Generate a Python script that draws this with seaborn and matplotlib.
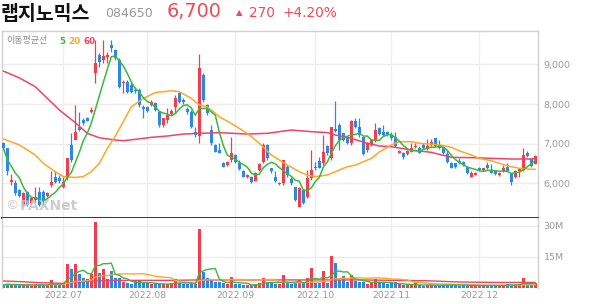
import numpy as np
import pandas as pd
import matplotlib
matplotlib.use("Agg")
import matplotlib.pyplot as plt
import seaborn as sns
from matplotlib.ticker import FuncFormatter, FixedLocator

# ---------------- data ----------------
opens = [7010, 6880, 6040, 6000, 5830, 5460, 5790, 5500, 5580, 5790, 5790, 5670, 5960, 6170, 6140, 5920,
         6130, 6970, 7090, 7430, 7600, 7640, 7810, 8770, 9240, 9110, 9190, 9490, 9360, 9110, 8520, 8560,
         8480, 8350, 8350, 7930, 7920, 7980, 8020, 7810, 7470, 7600, 7750, 7930, 8270, 8100, 7870, 7810,
         7300, 7190, 8730, 7980, 7350, 6970, 6840, 6510, 6460, 6590, 6720, 6510, 6320, 6150, 6170, 6070,
         6340, 6550, 6970, 6380, 6170, 5980, 6000, 6420, 6100, 5900, 5410, 5830, 5650, 6130, 6420, 6570,
         6510, 6930, 6630, 7360, 7470, 7260, 7180, 7010, 7560, 7430, 7160, 6840, 6970, 7090, 7390, 7300,
         7300, 7220, 7160, 6770, 6760, 6740, 6800, 6910, 6880, 6970, 6860, 6970, 7140, 6970, 6910, 6740,
         6510, 6510, 6570, 6550, 6420, 6170, 6220, 6380, 6340, 6460, 6340, 6300, 6200, 6300, 6420, 6240,
         6170, 6300, 6340, 6770, 6610, 6500]
highs = [7050, 6900, 6240, 6090, 5860, 5790, 5800, 5650, 5920, 5920, 5830, 5790, 6300, 6300, 6200, 6170,
         6630, 7260, 7970, 7810, 7660, 7680, 7920, 9610, 9280, 9610, 9320, 9610, 9380, 9150, 8610, 8600,
         8520, 8440, 8400, 7970, 7950, 8100, 8060, 7830, 7660, 7890, 7870, 8230, 8310, 8150, 7930, 7850,
         7430, 9260, 8770, 8000, 7470, 6990, 7010, 6550, 6570, 7180, 6740, 6590, 6340, 6230, 6190, 6290,
         6520, 7010, 7000, 6400, 6300, 6040, 6590, 6460, 6170, 5920, 5920, 5850, 6340, 6840, 6550, 6670,
         7220, 6970, 7430, 8080, 7510, 7280, 7200, 7600, 7640, 7640, 7180, 7050, 7110, 7530, 7430, 7470,
         7320, 7300, 7300, 6840, 6800, 6840, 7010, 7030, 6940, 7010, 7110, 7110, 7150, 7100, 6920, 6840,
         6550, 6520, 6630, 6570, 6440, 6300, 6290, 6420, 6400, 6550, 6480, 6320, 6290, 6460, 6520, 6250,
         6340, 6370, 6880, 6820, 6640, 6720]
lows = [6840, 6210, 5960, 5710, 5650, 5430, 5440, 5480, 5540, 5440, 5460, 5650, 5920, 6000, 6010, 5880,
        6090, 6550, 7090, 7330, 7470, 7560, 7770, 8520, 8940, 9030, 9030, 9320, 9110, 8400, 8270, 8270,
        8270, 8270, 7930, 7640, 7800, 7950, 7830, 7430, 7430, 7510, 7720, 7770, 8020, 8000, 7760, 7390,
        7180, 7010, 8060, 7720, 6970, 6780, 6760, 6420, 6440, 6550, 6520, 6340, 6150, 6130, 6010, 6050,
        6320, 6510, 6600, 6270, 6040, 5960, 5960, 6170, 5960, 5560, 5400, 5480, 5620, 6090, 6340, 6380,
        6460, 6720, 6590, 7300, 6840, 7070, 6990, 6970, 7400, 7180, 6720, 6800, 6950, 7050, 7220, 7190,
        7200, 7090, 6910, 6760, 6610, 6720, 6780, 6890, 6760, 6860, 6840, 6950, 6910, 6860, 6740, 6520,
        6400, 6400, 6490, 6450, 6240, 6150, 6200, 6300, 6320, 6360, 6250, 6210, 6190, 6280, 6300, 5960,
        6130, 6170, 6300, 6670, 6420, 6490]
closes = [6900, 6300, 6090, 5750, 5670, 5750, 5460, 5620, 5660, 5460, 5580, 5750, 6040, 6040, 6060, 6040,
          6630, 6590, 7300, 7350, 7510, 7580, 7850, 9030, 9070, 9210, 9240, 9400, 9150, 8440, 8560, 8310,
          8310, 8340, 7980, 7870, 7830, 8060, 7850, 7470, 7640, 7720, 7830, 8140, 8060, 8060, 7810, 7430,
          7220, 8900, 8100, 7770, 7010, 6800, 6770, 6420, 6550, 6760, 6550, 6350, 6170, 6210, 6030, 6270,
          6490, 6970, 6630, 6300, 6070, 6020, 6590, 6210, 6000, 5580, 5880, 5500, 6130, 6340, 6380, 6400,
          6800, 6770, 7430, 7330, 7090, 7090, 7010, 7560, 7430, 7220, 6740, 7010, 7090, 7350, 7240, 7220,
          7220, 7140, 6930, 6820, 6660, 6820, 6880, 6940, 6770, 6880, 6930, 7050, 6930, 6880, 6770, 6550,
          6400, 6420, 6510, 6460, 6250, 6270, 6270, 6340, 6380, 6380, 6270, 6230, 6270, 6400, 6320, 6040,
          6300, 6350, 6720, 6690, 6430, 6700]
volumes_m = [1.5, 2.0, 1.6, 1.4, 1.3, 1.6, 1.5, 1.2, 1.4, 1.6, 1.5, 1.4, 3.7, 1.8, 1.6, 1.7,
             11.4, 9.0, 11.4, 6.6, 4.7, 4.2, 6.6, 31.9, 7.1, 9.0, 4.2, 8.0, 4.7, 4.7, 2.7, 2.3, 1.8, 3.2, 3.2, 2.3,
             2.2, 1.8, 2.2, 1.8, 1.8, 1.8, 2.2, 4.2, 2.2, 1.8, 1.8, 2.2, 1.8,
             28.3, 7.7, 4.7, 3.7, 2.7, 2.7, 2.2, 1.8, 5.2, 1.8, 1.8, 1.3, 1.3, 1.3, 1.8, 2.2, 4.7, 2.7, 2.2,
             1.8, 1.8, 6.1, 2.2, 1.8, 2.2,
             3.9, 2.6, 4.7, 9.5, 2.2, 2.2, 8.0, 2.2, 15.3, 11.9, 3.7, 5.6, 2.7, 6.1, 3.2, 2.7, 2.7, 1.8, 2.7,
             4.2, 2.7, 2.2, 1.8, 2.2, 2.7, 1.8, 1.3, 1.3, 1.3, 2.2,
             1.3, 1.1, 1.5, 1.3, 1.6, 1.1, 1.3, 1.6, 1.8, 1.3, 1.1, 1.3, 1.6, 1.3, 1.1, 1.1, 1.3, 1.1, 1.3,
             1.1, 1.3, 1.6, 1.8, 1.6, 1.3, 1.6,
             4.7, 1.8, 1.6, 2.2]

ma20_days = [0, 4, 8, 10, 13, 15, 18, 20, 22, 24, 26, 28, 30, 32, 35, 38, 40, 42, 44, 47, 49, 51, 54, 57,
             61, 64, 67, 71, 74, 76, 78, 81, 83, 86, 88, 92, 94, 97, 99, 102, 104, 107, 109, 112, 114, 117,
             119, 122, 124, 127, 129, 132, 133]
ma20_vals = [7120, 6970, 6715, 6505, 6295, 6170, 6150, 6170, 6295, 6505, 6880, 7190, 7555, 7930, 8140, 8290,
             8310, 8335, 8310, 8140, 7975, 7930, 7680, 7510, 7260, 7010, 6715, 6460, 6295, 6210, 6170, 6210,
             6295, 6420, 6460, 6630, 6790, 6970, 7050, 7050, 7010, 6990, 6970, 6910, 6820, 6715, 6630, 6570,
             6505, 6420, 6380, 6355, 6355]
ma60_days = [0, 4, 8, 11, 14, 18, 21, 24, 28, 30, 33, 37, 41, 45, 49, 54, 61, 66, 72, 77, 81, 83, 87, 91,
             94, 97, 102, 107, 109, 112, 117, 122, 127, 132, 133]
ma60_vals = [8830, 8660, 8437, 8143, 7850, 7530, 7260, 7150, 7093, 7076, 7110, 7160, 7194, 7244, 7261, 7278,
             7244, 7261, 7345, 7303, 7280, 7219, 7135, 7009, 6942, 6925, 6841, 6782, 6732, 6656, 6648, 6631,
             6614, 6614, 6630]
vma60_days = [0, 4, 9, 15, 22, 28, 41, 49, 57, 74, 81, 89, 98, 106, 114, 123, 133]
vma60_vals = [3.4, 3.1, 2.6, 2.25, 3.4, 3.7, 3.7, 3.9, 3.9, 3.9, 3.9, 3.9, 3.7, 3.5, 2.9, 2.7, 2.7]

month_start_days = [15, 36, 58, 78, 97, 119]
month_labels = ["2022.07", "2022.08", "2022.09", "2022.10", "2022.11", "2022.12"]
price_ticks = [6000, 7000, 8000, 9000]
volume_ticks = [15e6, 30e6]

stock_name = "랩지노믹스"
stock_code = "084650"
last_price = "6,700"
change_text = "270"
change_pct = "+4.20%"

# ---------------- styling ----------------
sns.set_theme(style="white")
plt.rcParams["font.family"] = ["DejaVu Sans", "Noto Sans CJK KR"]

RED = "#f23d4c"
BLUE = "#2b88e8"
C5 = "#3cb83c"
C20 = "#ffa726"
C60 = "#f0436a"
GRID = "#ededed"
LABEL = "#999999"

W, H = 594, 304
fig = plt.figure(figsize=(W / 100, H / 100), dpi=100)
fig.patch.set_facecolor("white")

def fx(px):
    return px / W

def fy(py):
    return 1 - py / H

left, right = 2, 538
p_top, p_bot = 30.5, 217.5
v_bot = 288.0

ax = fig.add_axes([fx(left), fy(p_bot), (right - left) / W, (p_bot - p_top) / H])
axv = fig.add_axes([fx(left), fy(v_bot), (right - left) / W, (v_bot - p_bot) / H])

n = len(closes)
days = np.arange(n)
df = pd.DataFrame({"day": days, "open": opens, "high": highs, "low": lows,
                   "close": closes, "volume": np.array(volumes_m) * 1e6})
df["up"] = df["close"] >= df["open"]
df["color"] = np.where(df["up"], RED, BLUE)
df["ma5"] = df["close"].rolling(5, min_periods=1).mean()
df["vma5"] = df["volume"].rolling(5, min_periods=1).mean()
df["vma20"] = df["volume"].rolling(20, min_periods=1).mean()

xlim = (-0.33, n - 1 + 0.67)

# ---- price panel ----
for m in month_start_days:
    ax.axvline(m, color=GRID, lw=1.0, zorder=0)
for t in price_ticks:
    ax.axhline(t, color=GRID, lw=1.0, zorder=0)

ax.vlines(df["day"], df["low"], df["high"], colors=df["color"], lw=0.9, zorder=2)
body_bottom = np.minimum(df["open"], df["close"])
body_h = np.maximum(np.abs(df["close"] - df["open"]), 12)
ax.bar(df["day"], body_h, bottom=body_bottom, width=0.72, color=df["color"], linewidth=0, zorder=3)

ma20_df = pd.DataFrame({"day": ma20_days, "v": ma20_vals})
ma60_df = pd.DataFrame({"day": ma60_days, "v": ma60_vals})
sns.lineplot(data=ma60_df, x="day", y="v", ax=ax, color=C60, lw=1.1, zorder=4)
sns.lineplot(data=ma20_df, x="day", y="v", ax=ax, color=C20, lw=1.1, zorder=4)
sns.lineplot(data=df, x="day", y="ma5", ax=ax, color=C5, lw=1.1, zorder=5)

ax.set_xlim(*xlim)
ax.set_ylim(5140, 9853)
ax.set_xlabel("")
ax.set_ylabel("")
ax.set_xticks([])
ax.yaxis.tick_right()
ax.yaxis.set_major_locator(FixedLocator(price_ticks))
ax.yaxis.set_major_formatter(FuncFormatter(lambda v, p: f"{int(v):,}"))
ax.tick_params(axis="y", length=0, pad=4, labelsize=6.8, labelcolor=LABEL)
for s in ["top", "right", "left"]:
    ax.spines[s].set_color("#d0d0d0")
    ax.spines[s].set_linewidth(1.0)
ax.spines["bottom"].set_color("#333333")
ax.spines["bottom"].set_linewidth(1.4)

# watermark
ax.text(3 / (right - left), 0.062, "©", transform=ax.transAxes, fontsize=9.5,
        color="#c4c4c4", alpha=0.85, va="center", ha="left", zorder=6)
ax.text(18 / (right - left), 0.062, "PAXNet", transform=ax.transAxes, fontsize=10,
        fontweight="bold", color="#c4c4c4", alpha=0.85, va="center", ha="left", zorder=6)

# ---- volume panel ----
for m in month_start_days:
    axv.axvline(m, color=GRID, lw=1.0, zorder=0)
for t in volume_ticks:
    axv.axhline(t, color=GRID, lw=1.0, zorder=0)
axv.bar(df["day"], df["volume"], width=0.66, color=df["color"], linewidth=0, zorder=2)
vma60_df = pd.DataFrame({"day": vma60_days, "v": np.array(vma60_vals) * 1e6})
sns.lineplot(data=vma60_df, x="day", y="v", ax=axv, color=C60, lw=1.0, zorder=3)
sns.lineplot(data=df, x="day", y="vma20", ax=axv, color=C20, lw=1.0, zorder=3)
sns.lineplot(data=df, x="day", y="vma5", ax=axv, color=C5, lw=1.0, zorder=4)
axv.set_xlim(*xlim)
axv.set_ylim(0, 34.1e6)
axv.set_xlabel("")
axv.set_ylabel("")
axv.yaxis.tick_right()
axv.yaxis.set_major_locator(FixedLocator(volume_ticks))
axv.yaxis.set_major_formatter(FuncFormatter(lambda v, p: f"{int(round(v / 1e6))}M"))
axv.set_xticks(month_start_days)
axv.set_xticklabels(month_labels)
axv.tick_params(axis="y", length=0, pad=4, labelsize=6.8, labelcolor=LABEL)
axv.tick_params(axis="x", length=0, pad=2, labelsize=6.7, labelcolor=LABEL)
axv.spines["top"].set_visible(False)
axv.spines["bottom"].set_visible(False)
for s in ["right", "left"]:
    axv.spines[s].set_color("#d0d0d0")
    axv.spines[s].set_linewidth(1.0)

# ---- header ----
fig.text(fx(1), fy(20), stock_name, fontsize=14, fontweight="bold", color="#111111",
         family=["Noto Sans CJK KR", "DejaVu Sans"], va="baseline", ha="left")
fig.text(fx(105), fy(16.8), stock_code, fontsize=9, color=LABEL, va="baseline", ha="left")
fig.text(fx(167), fy(16.8), last_price, fontsize=13.8, color="#f04a55", va="baseline", ha="left")
fig.text(fx(236), fy(15.5), "▲", fontsize=6, color="#f04a55", va="baseline", ha="left")
fig.text(fx(249), fy(16.8), change_text, fontsize=9.8, color="#f04a55", va="baseline", ha="left")
fig.text(fx(282), fy(16.8), change_pct, fontsize=9.8, color="#f04a55", va="baseline", ha="left")

# ---- MA legend ----
fig.text(fx(6), fy(41), "이동평균선", fontsize=6.5, color="#8a8a8a",
         family=["Noto Sans CJK KR", "DejaVu Sans"], va="center", ha="left")
fig.text(fx(59), fy(41), "5", fontsize=6.3, fontweight="bold", color=C5, va="center", ha="left")
fig.text(fx(68), fy(41), "20", fontsize=6.3, fontweight="bold", color=C20, va="center", ha="left")
fig.text(fx(83), fy(41), "60", fontsize=6.3, fontweight="bold", color=C60, va="center", ha="left")

fig.savefig("out.png", dpi=100, facecolor="white")
